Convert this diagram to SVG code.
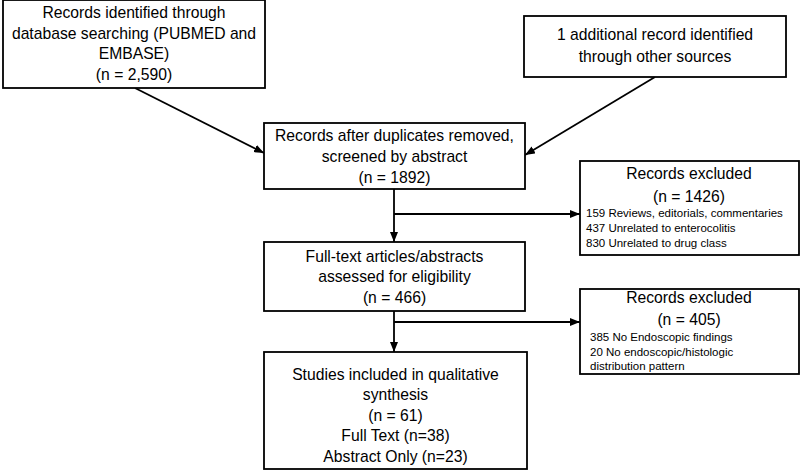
<svg xmlns="http://www.w3.org/2000/svg" width="800" height="471" viewBox="0 0 800 471">
  <defs>
    <marker id="arr" markerWidth="11" markerHeight="9" refX="10" refY="4" orient="auto" markerUnits="userSpaceOnUse">
      <path d="M0,0 L10,4 L0,8 z" fill="#000"/>
    </marker>
    <style>
      .box { fill: #fff; stroke: #000; stroke-width: 1.8; }
      .t { font-family: "Liberation Sans", Arial, sans-serif; font-size: 15.7px; fill: #000; text-anchor: middle; }
      .s { font-family: "Liberation Sans", Arial, sans-serif; font-size: 11.5px; fill: #000; text-anchor: start; }
      .ln { fill: none; stroke: #000; stroke-width: 1.8; }
    </style>
  </defs>
  <rect width="800" height="471" fill="#fff"/>

  <g id="connectors">
    <line class="ln" x1="135" y1="88" x2="264" y2="153" marker-end="url(#arr)"/>
    <line class="ln" x1="655" y1="77" x2="525" y2="155" marker-end="url(#arr)"/>
    <line class="ln" x1="394" y1="189" x2="394" y2="242" marker-end="url(#arr)"/>
    <line class="ln" x1="394" y1="214" x2="580" y2="214" marker-end="url(#arr)"/>
    <line class="ln" x1="394" y1="311" x2="394" y2="352" marker-end="url(#arr)"/>
    <line class="ln" x1="394" y1="322" x2="580" y2="322" marker-end="url(#arr)"/>
  </g>

  <g id="n-database">
    <rect class="box" x="3" y="0" width="262" height="88"/>
    <text class="t" x="134" y="18">Records identified through</text>
    <text class="t" x="134" y="38.5">database searching (PUBMED and</text>
    <text class="t" x="134" y="59">EMBASE)</text>
    <text class="t" x="134" y="80">(n = 2,590)</text>
  </g>

  <g id="n-other">
    <rect class="box" x="524" y="16" width="262" height="61"/>
    <text class="t" x="655" y="40">1 additional record identified</text>
    <text class="t" x="655" y="62">through other sources</text>
  </g>

  <g id="n-screened">
    <rect class="box" x="264" y="123" width="261" height="66"/>
    <text class="t" x="394.5" y="141">Records after duplicates removed,</text>
    <text class="t" x="394.5" y="162">screened by abstract</text>
    <text class="t" x="394.5" y="183">(n = 1892)</text>
  </g>

  <g id="n-excluded1">
    <rect class="box" x="580" y="161" width="219" height="94"/>
    <text class="t" x="689" y="179">Records excluded</text>
    <text class="t" x="689" y="202">(n = 1426)</text>
    <text class="s" x="586" y="217">159 Reviews, editorials, commentaries</text>
    <text class="s" x="586" y="232">437 Unrelated to enterocolitis</text>
    <text class="s" x="586" y="247">830 Unrelated to drug class</text>
  </g>

  <g id="n-fulltext">
    <rect class="box" x="264" y="242" width="261" height="69"/>
    <text class="t" x="394.5" y="262">Full-text articles/abstracts</text>
    <text class="t" x="394.5" y="282">assessed for eligibility</text>
    <text class="t" x="394.5" y="303">(n = 466)</text>
  </g>

  <g id="n-excluded2">
    <rect class="box" x="580" y="289" width="219" height="85"/>
    <text class="t" x="689" y="303">Records excluded</text>
    <text class="t" x="689" y="325">(n = 405)</text>
    <text class="s" x="590" y="341">385 No Endoscopic findings</text>
    <text class="s" x="590" y="355.5">20 No endoscopic/histologic</text>
    <text class="s" x="590" y="370">distribution pattern</text>
  </g>

  <g id="n-included">
    <rect class="box" x="264" y="352" width="263" height="117"/>
    <text class="t" x="395.5" y="380">Studies included in qualitative</text>
    <text class="t" x="395.5" y="400">synthesis</text>
    <text class="t" x="395.5" y="421">(n = 61)</text>
    <text class="t" x="395.5" y="441">Full Text (n=38)</text>
    <text class="t" x="395.5" y="462">Abstract Only (n=23)</text>
  </g>
</svg>
